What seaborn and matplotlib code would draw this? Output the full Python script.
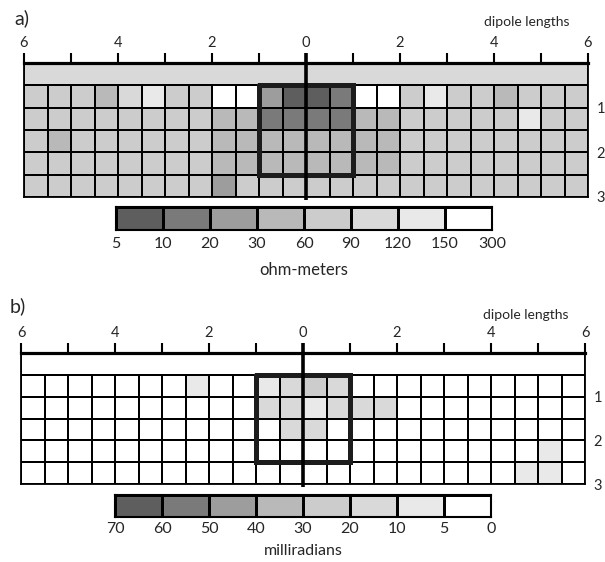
import numpy as np
import matplotlib
matplotlib.use("Agg")
import matplotlib.pyplot as plt
import seaborn as sns
from matplotlib.colors import ListedColormap, BoundaryNorm
from matplotlib.patches import Rectangle

sns.set_theme(style="white")
plt.rcParams["font.family"] = ["Lato", "DejaVu Sans"]

# ---- data -------------------------------------------------------------
# 24 half-dipole stations from -6 to +6 dipole lengths, 5 separations (n = 0.5 ... 2.5)
resistivity_ohm_m = [
    [75, 75, 75, 45, 105, 135, 75, 75, 200, 200, 25, 8, 8, 15, 200, 200, 75, 135, 75, 75, 45, 75, 75, 75],
    [75, 75, 75, 75, 75, 75, 75, 75, 45, 45, 15, 15, 12, 15, 45, 45, 75, 75, 75, 75, 75, 135, 75, 75],
    [75, 45, 75, 75, 75, 75, 75, 75, 45, 45, 45, 45, 45, 45, 45, 45, 75, 75, 75, 75, 75, 75, 75, 75],
    [75, 75, 75, 75, 75, 75, 75, 75, 45, 45, 45, 45, 45, 45, 45, 45, 75, 75, 75, 75, 75, 75, 75, 75],
    [75, 75, 75, 75, 75, 75, 75, 75, 25, 75, 75, 75, 75, 75, 75, 75, 75, 75, 75, 75, 75, 75, 75, 75],
]
surface_resistivity = 100

phase_mrad = [
    [2, 2, 2, 2, 2, 2, 2, 7, 2, 2, 7, 12, 22, 12, 2, 2, 2, 2, 2, 2, 2, 2, 2, 2],
    [2, 2, 2, 2, 2, 2, 2, 2, 2, 2, 12, 12, 7, 12, 12, 12, 2, 2, 2, 2, 2, 2, 2, 2],
    [2, 2, 2, 2, 2, 2, 2, 2, 2, 2, 2, 12, 12, 2, 2, 2, 2, 2, 2, 2, 2, 2, 2, 2],
    [2, 2, 2, 2, 2, 2, 2, 2, 2, 2, 2, 2, 2, 2, 2, 2, 2, 2, 2, 2, 2, 2, 7, 2],
    [2, 2, 2, 2, 2, 2, 2, 2, 2, 2, 2, 2, 2, 2, 2, 2, 2, 2, 2, 2, 2, 7, 7, 2],
]
surface_phase = 2

ohm_bounds = [5, 10, 20, 30, 60, 90, 120, 150, 300]
mrad_bounds = [0, 5, 10, 20, 30, 40, 50, 60, 70]

dipole_ticks = [-6, -5, -4, -3, -2, -1, 0, 1, 2, 3, 4, 5, 6]
depth_labels = ["1", "2", "3"]

# ---- shading ----------------------------------------------------------
grays = ["#5e5e5e", "#7a7a7a", "#9d9d9d", "#b9b9b9", "#cccccc", "#d9d9d9", "#e9e9e9", "#ffffff"]
ohm_cmap = ListedColormap(grays)
ohm_norm = BoundaryNorm(ohm_bounds, ohm_cmap.N)
mrad_cmap = ListedColormap(grays[::-1])
mrad_norm = BoundaryNorm(mrad_bounds, mrad_cmap.N)

W, H = 605, 562
fig = plt.figure(figsize=(W / 100, H / 100), dpi=100)


def px_axes(x0, y0, x1, y1):
    return fig.add_axes([x0 / W, 1 - y1 / H, (x1 - x0) / W, (y1 - y0) / H])


def section(ax, values, surface_value, cmap, norm):
    data = np.array(values, dtype=float)
    nrow, ncol = data.shape
    sns.heatmap(data, ax=ax, cmap=cmap, norm=norm, cbar=False,
                linewidths=1.2, linecolor="black",
                xticklabels=False, yticklabels=False)
    # near-surface band above the first separation
    ax.add_patch(Rectangle((0, -1), ncol, 1, facecolor=cmap(norm(surface_value)),
                           edgecolor="black", lw=1.2, zorder=0.5))
    ax.set_xlim(0, ncol)
    ax.set_ylim(nrow, -1)
    # distance axis along the top, in dipole lengths (2 stations per dipole)
    pos = [(d + 6) * 2 for d in dipole_ticks]
    labs = [str(abs(d)) if d % 2 == 0 else "" for d in dipole_ticks]
    ax.set_xticks(pos)
    ax.set_xticklabels(labs)
    ax.xaxis.set_ticks_position("top")
    ax.tick_params(axis="x", which="major", top=True, bottom=False, labeltop=True,
                   labelbottom=False, direction="out", length=7.5, width=1.5,
                   color="black", pad=2, labelsize=10.5)
    # separation labels on the right
    ax.set_yticks([1, 3, 5])
    ax.set_yticklabels(depth_labels)
    ax.tick_params(axis="y", left=False, right=True, labelleft=False, labelright=True,
                   length=0, pad=6, labelsize=10.5)
    for side, sp in ax.spines.items():
        sp.set_visible(True)
        sp.set_color("black")
        sp.set_linewidth(2.3 if side == "top" else 1.3)
        sp.set_zorder(4)
    # centre line and the outline of the anomalous body
    ax.plot([ncol / 2, ncol / 2], [-1.45, nrow + 0.15], color="black", lw=2.6,
            clip_on=False, zorder=8, solid_capstyle="butt")
    ax.plot([10, 14, 14, 10, 10], [0, 0, 4, 4, 0], color="#1c1c1c", lw=3.6,
            solid_joinstyle="miter", zorder=7, clip_on=False)


def legend_bar(ax, bounds, cmap, norm, reverse=False, pad=5):
    mids = [(a + b) / 2 for a, b in zip(bounds[:-1], bounds[1:])]
    labels = [str(b) for b in bounds]
    if reverse:
        mids = mids[::-1]
        labels = labels[::-1]
    sns.heatmap(np.array([mids]), ax=ax, cmap=cmap, norm=norm, cbar=False,
                linewidths=1.0, linecolor="black",
                xticklabels=False, yticklabels=False)
    ax.set_xticks(np.arange(len(bounds)))
    ax.set_xticklabels(labels)
    ax.tick_params(axis="x", bottom=False, length=0, pad=pad, labelsize=11.5)
    ax.set_yticks([])
    for sp in ax.spines.values():
        sp.set_visible(True)
        sp.set_color("black")
        sp.set_linewidth(1.5)


# ---- panel a: apparent resistivity ------------------------------------
ax_a = px_axes(24, 63, 588, 197)
section(ax_a, resistivity_ohm_m, surface_resistivity, ohm_cmap, ohm_norm)
cax_a = px_axes(116, 207, 492, 230)
legend_bar(cax_a, ohm_bounds, ohm_cmap, ohm_norm, pad=5)
fig.text(304 / W, 1 - 270 / H, "ohm-meters", ha="center", va="center", fontsize=12)
fig.text(527 / W, 1 - 22 / H, "dipole lengths", ha="center", va="center", fontsize=10)
fig.text(22 / W, 1 - 18 / H, "a)", ha="center", va="center", fontsize=14)

# ---- panel b: phase ---------------------------------------------------
ax_b = px_axes(21, 353, 585, 484)
section(ax_b, phase_mrad, surface_phase, mrad_cmap, mrad_norm)
cax_b = px_axes(115, 495, 491, 517)
legend_bar(cax_b, mrad_bounds, mrad_cmap, mrad_norm, reverse=True, pad=3.5)
fig.text(303 / W, 1 - 551 / H, "milliradians", ha="center", va="center", fontsize=11.5)
fig.text(526 / W, 1 - 315 / H, "dipole lengths", ha="center", va="center", fontsize=10)
fig.text(18 / W, 1 - 306 / H, "b)", ha="center", va="center", fontsize=14)

fig.savefig("out.png", dpi=100)
